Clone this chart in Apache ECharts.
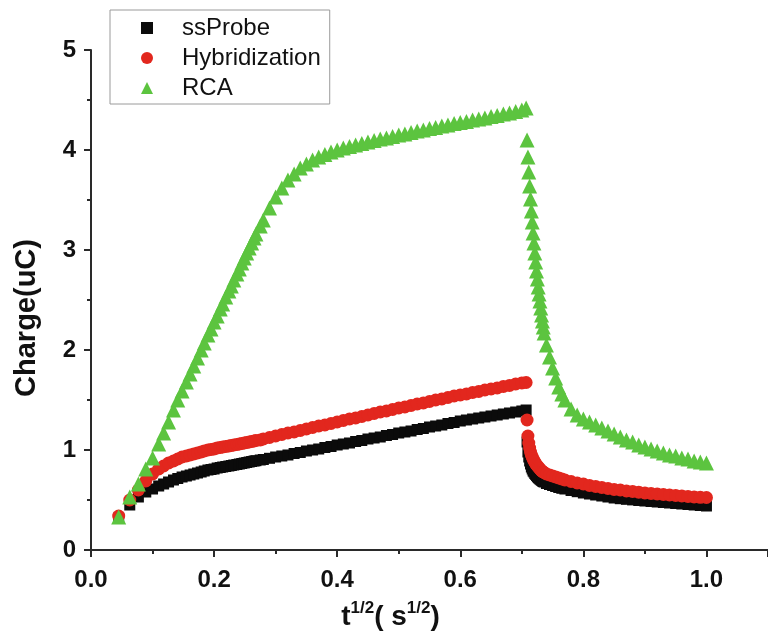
<!DOCTYPE html>
<html>
<head>
<meta charset="utf-8">
<script src="https://cdn.jsdelivr.net/npm/echarts@6/dist/echarts.min.js"></script>
<style>html,body{margin:0;padding:0;background:#fff;}#c{width:768px;height:636px;}</style>
</head>
<body>
<div id="c"></div>
<script>
// t^(1/2) values (s^(1/2))
const xValues = [
  0.045,0.063,0.077,0.089,0.100,0.110,0.118,0.126,0.134,0.141,0.148,0.155,0.161,0.167,0.173,0.179,0.184,0.190,0.195,0.200,0.205,0.210,0.214,0.219,0.224,0.228,0.232,0.237,0.241,0.245,0.249,0.253,0.257,0.261,0.265,0.268,
  0.275,0.28,0.29,0.30,0.31,0.32,0.33,0.34,0.35,0.36,0.37,0.38,0.39,0.40,0.41,0.42,0.43,0.44,0.45,0.46,0.47,0.48,0.49,0.50,0.51,0.52,0.53,0.54,0.55,0.56,0.57,0.58,0.59,0.60,0.61,0.62,0.63,0.64,0.65,0.66,0.67,0.68,0.69,0.70,0.707,
  0.7085,0.7099,0.7113,0.7127,0.7141,0.7155,0.7169,0.7183,0.7197,0.7211,0.7225,0.7239,0.7253,0.7266,0.7280,0.7294,0.7308,0.7321,0.7335,0.7348,0.7362,
  0.740,0.745,0.750,0.755,0.760,0.765,0.770,0.78,0.79,0.80,0.81,0.82,0.83,0.84,0.85,0.86,0.87,0.88,0.89,0.90,0.91,0.92,0.93,0.94,0.95,0.96,0.97,0.98,0.99,1.00
];
const ssProbe = [
  0.32,0.45,0.53,0.58,0.61,0.64,0.66,0.68,0.70,0.715,0.73,0.74,0.75,0.76,0.77,0.78,0.79,0.80,0.805,0.81,0.82,0.825,0.83,0.835,0.84,0.845,0.85,0.855,0.86,0.865,0.87,0.875,0.88,0.885,0.89,0.893,
  0.90,0.905,0.917,0.93,0.94,0.95,0.965,0.975,0.99,1.00,1.01,1.025,1.035,1.05,1.06,1.07,1.085,1.095,1.11,1.12,1.13,1.145,1.155,1.17,1.18,1.19,1.205,1.215,1.23,1.24,1.25,1.265,1.275,1.29,1.30,1.31,1.32,1.33,1.34,1.35,1.36,1.37,1.38,1.39,1.40,
  1.08,0.98,0.93,0.89,0.86,0.83,0.81,0.79,0.78,0.765,0.755,0.745,0.735,0.725,0.717,0.71,0.703,0.697,0.69,0.685,0.68,
  0.665,0.655,0.645,0.635,0.625,0.617,0.61,0.595,0.583,0.57,0.56,0.55,0.54,0.53,0.52,0.513,0.507,0.501,0.495,0.49,0.485,0.48,0.475,0.47,0.465,0.46,0.455,0.45,0.445,0.44
];
const hybridization = [
  0.34,0.50,0.60,0.69,0.76,0.81,0.84,0.87,0.89,0.91,0.93,0.94,0.95,0.96,0.97,0.98,0.99,1.00,1.005,1.01,1.02,1.025,1.03,1.035,1.04,1.045,1.05,1.055,1.06,1.065,1.07,1.075,1.08,1.085,1.09,1.095,
  1.10,1.11,1.125,1.14,1.155,1.17,1.18,1.195,1.21,1.225,1.24,1.25,1.265,1.28,1.295,1.31,1.32,1.335,1.35,1.365,1.38,1.39,1.405,1.42,1.43,1.445,1.46,1.47,1.485,1.50,1.51,1.525,1.54,1.55,1.56,1.575,1.585,1.60,1.61,1.62,1.635,1.645,1.66,1.67,1.675,
  1.30,1.14,1.07,1.02,0.98,0.95,0.93,0.91,0.89,0.88,0.86,0.85,0.84,0.83,0.82,0.81,0.80,0.79,0.785,0.78,0.775,
  0.76,0.75,0.74,0.73,0.72,0.71,0.70,0.685,0.67,0.66,0.645,0.635,0.625,0.615,0.605,0.60,0.59,0.585,0.578,0.57,0.565,0.56,0.555,0.55,0.545,0.54,0.535,0.53,0.527,0.525
];
const rca = [
  0.33,0.53,0.66,0.81,0.92,1.06,1.17,1.28,1.40,1.50,1.59,1.68,1.76,1.84,1.92,2.00,2.07,2.15,2.21,2.28,2.34,2.41,2.46,2.53,2.59,2.64,2.70,2.76,2.81,2.87,2.92,2.97,3.02,3.07,3.12,3.16,
  3.24,3.30,3.42,3.53,3.62,3.70,3.76,3.82,3.86,3.90,3.93,3.955,3.98,4.00,4.02,4.035,4.05,4.065,4.08,4.095,4.11,4.12,4.135,4.15,4.16,4.175,4.19,4.20,4.215,4.225,4.24,4.25,4.265,4.275,4.285,4.30,4.31,4.32,4.335,4.345,4.36,4.37,4.385,4.40,4.42,
  4.10,3.93,3.78,3.64,3.51,3.39,3.28,3.17,3.07,2.97,2.88,2.79,2.71,2.63,2.56,2.49,2.42,2.35,2.29,2.23,2.17,
  2.05,1.93,1.82,1.72,1.63,1.56,1.50,1.41,1.35,1.31,1.28,1.25,1.22,1.19,1.16,1.13,1.10,1.08,1.05,1.03,1.01,0.99,0.97,0.95,0.94,0.92,0.91,0.89,0.88,0.87
];
const seriesNames = ['ssProbe', 'Hybridization', 'RCA'];
const xTickLabels = ['0.0', '0.2', '0.4', '0.6', '0.8', '1.0'];
const yTickLabels = ['0', '1', '2', '3', '4', '5'];

const FONT = "'Liberation Sans', Arial, Helvetica, sans-serif";
const pair = arr => xValues.map((x, i) => [x, arr[i]]);

const chart = echarts.init(document.getElementById('c'), null, {renderer: 'canvas'});
chart.setOption({
  animation: false,
  backgroundColor: '#ffffff',
  grid: {left: 91, width: 684, top: 50, bottom: 85, containLabel: false},
  legend: {
    orient: 'vertical', left: 110, top: 10,
    padding: [6, 9, 4, 31], itemGap: 6, itemWidth: 12, itemHeight: 12,
    borderColor: '#9a9a9a', borderWidth: 1,
    textStyle: {fontFamily: FONT, fontSize: 24, color: '#111', lineHeight: 24, padding: [0, 0, 0, 24]},
    data: seriesNames
  },
  xAxis: {
    type: 'value', min: 0, max: 1.1, interval: 0.2,
    name: '{b|t}{s|1/2}{b|( s}{s|1/2}{b|)}',
    nameLocation: 'middle', nameGap: 50,
    nameTextStyle: {
      padding: [0, 78, 0, 0],
      rich: {
        b: {fontFamily: FONT, fontWeight: 'bold', fontSize: 28, color: '#111', lineHeight: 31, verticalAlign: 'bottom'},
        s: {fontFamily: FONT, fontWeight: 'bold', fontSize: 17, color: '#111', lineHeight: 31, verticalAlign: 'top'}
      }
    },
    axisLine: {show: true, lineStyle: {color: '#2a2a2a', width: 2}},
    axisTick: {show: true, length: 7, lineStyle: {color: '#2a2a2a', width: 2}},
    minorTick: {show: true, splitNumber: 2, length: 4, lineStyle: {color: '#2a2a2a', width: 2}},
    splitLine: {show: false},
    axisLabel: {
      showMaxLabel: false, margin: 18,
      fontFamily: FONT, fontWeight: 'bold', fontSize: 24, color: '#111',
      formatter: v => { const i = Math.round(v / 0.2); return Math.abs(v - i * 0.2) < 1e-6 && xTickLabels[i] !== undefined ? xTickLabels[i] : ''; }
    }
  },
  yAxis: {
    type: 'value', min: 0, max: 5, interval: 1,
    name: 'Charge(uC)', nameLocation: 'middle', nameGap: 50,
    nameTextStyle: {fontFamily: FONT, fontWeight: 'bold', fontSize: 29, color: '#111', padding: [0, 36, 0, 0]},
    axisLine: {show: true, lineStyle: {color: '#2a2a2a', width: 2}},
    axisTick: {show: true, length: 7, lineStyle: {color: '#2a2a2a', width: 2}},
    minorTick: {show: true, splitNumber: 2, length: 4, lineStyle: {color: '#2a2a2a', width: 2}},
    splitLine: {show: false},
    axisLabel: {
      margin: 15, fontFamily: FONT, fontWeight: 'bold', fontSize: 24, color: '#111',
      formatter: v => yTickLabels[Math.round(v)]
    }
  },
  series: [
    {name: seriesNames[0], type: 'scatter', symbol: 'rect', symbolSize: 11, itemStyle: {color: '#0b0b0b', opacity: 1}, data: pair(ssProbe)},
    {name: seriesNames[1], type: 'scatter', symbol: 'circle', symbolSize: 13, itemStyle: {color: '#e2271e', opacity: 1}, data: pair(hybridization)},
    {name: seriesNames[2], type: 'scatter', symbol: 'triangle', symbolSize: 15, itemStyle: {color: '#5cc43f', opacity: 1}, data: pair(rca)}
  ]
});
</script>
</body>
</html>
